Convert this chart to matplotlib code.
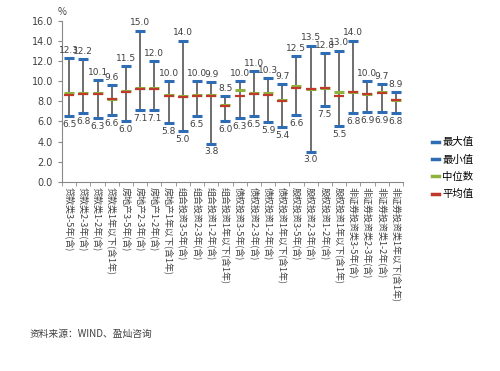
import matplotlib
matplotlib.use("Agg")
import matplotlib.pyplot as plt
from matplotlib.lines import Line2D
import numpy as np

plt.rcParams['font.family'] = ['Noto Sans CJK SC', 'DejaVu Sans']

# categories (x tick labels)
categories = [
    "贷款类3-5年(含)", "贷款类2-3年(含)", "贷款类1-2年(含)", "贷款类1年以下(含1年)",
    "房地产3-5年(含)", "房地产2-3年(含)", "房地产1-2年(含)", "房地产1年以下(含1年)",
    "组合投资3-5年(含)", "组合投资2-3年(含)", "组合投资1-2年(含)", "组合投资1年以下(含1年)",
    "债权投资3-5年(含)", "债权投资2-3年(含)", "债权投资1-2年(含)", "债权投资1年以下(含1年)",
    "股权投资3-5年(含)", "股权投资2-3年(含)", "股权投资1-2年(含)", "股权投资1年以下(含1年)",
    "非证券投资类3-5年(含)", "非证券投资类2-3年(含)", "非证券投资类1-2年(含)", "非证券投资类1年以下(含1年)",
]
max_vals = [12.3, 12.2, 10.1, 9.6, 11.5, 15.0, 12.0, 10.0, 14.0, 10.0, 9.9, 8.5,
            10.0, 11.0, 10.3, 9.7, 12.5, 13.5, 12.8, 13.0, 14.0, 10.0, 9.7, 8.9]
min_vals = [6.5, 6.8, 6.3, 6.6, 6.0, 7.1, 7.1, 5.8, 5.0, 6.5, 3.8, 6.0,
            6.3, 6.5, 5.9, 5.4, 6.6, 3.0, 7.5, 5.5, 6.8, 6.9, 6.9, 6.8]
median_vals = [8.8, 8.8, 8.85, 8.2, 9.05, 9.35, 9.3, 8.6, 8.55, 8.6, 8.6, 7.65,
               9.1, 8.8, 8.85, 8.1, 9.55, 9.25, 9.3, 8.95, 8.9, 8.75, 8.95, 8.1]
mean_vals = [8.6, 8.7, 8.7, 8.2, 8.9, 9.25, 9.25, 8.55, 8.4, 8.55, 8.55, 7.5,
             8.55, 8.7, 8.6, 8.05, 9.35, 9.25, 9.3, 8.55, 8.9, 8.7, 8.8, 8.1]

C_MAX = '#2e6db4'
C_MIN = '#2e6db4'
C_MED = '#8db33c'
C_MEAN = '#c0392b'
TXT = '#404040'

fig = plt.figure(figsize=(5.0, 3.71), dpi=100)
ax = fig.add_axes([0.124, 0.51, 0.682, 0.434])

x = np.arange(len(categories))
ax.vlines(x, min_vals, max_vals, color='#555555', lw=1.2, zorder=1)
ms = 7.5
ax.plot(x, max_vals, ls='none', marker='_', ms=ms, mew=2.2, color=C_MAX, zorder=3)
ax.plot(x, min_vals, ls='none', marker='_', ms=ms, mew=2.2, color=C_MIN, zorder=3)
ax.plot(x, median_vals, ls='none', marker='_', ms=ms, mew=2.2, color=C_MED, zorder=4)
ax.plot(x, mean_vals, ls='none', marker='_', ms=ms, mew=1.6, color=C_MEAN, zorder=5)

for xi, v in zip(x, max_vals):
    ax.annotate(f"{v:.1f}", (xi, v), xytext=(0, 2.5), textcoords='offset points',
                ha='center', va='bottom', fontsize=6.5, color=TXT, family='DejaVu Sans')
for xi, v in zip(x, min_vals):
    ax.annotate(f"{v:.1f}", (xi, v), xytext=(0, -2.5), textcoords='offset points',
                ha='center', va='top', fontsize=6.5, color=TXT, family='DejaVu Sans')

ax.set_xlim(-0.5, len(categories) - 0.5)
ax.set_ylim(0, 16)
ax.set_yticks(np.arange(0, 16.1, 2))
ax.set_yticklabels([f"{t:.1f}" for t in np.arange(0, 16.1, 2)], fontsize=7,
                   family='DejaVu Sans', color=TXT)
ax.set_xticks(x)
ax.set_xticklabels(categories, rotation=-90, fontsize=6.5, va='top', ha='center', color=TXT)
ax.set_xticks(np.arange(-0.5, len(categories), 1), minor=True)
ax.tick_params(axis='x', which='major', length=0, pad=4)
ax.tick_params(axis='x', which='minor', length=3, color='#888888')
ax.tick_params(axis='y', length=3, color='#888888')
for s in ['top', 'right']:
    ax.spines[s].set_visible(False)
for s in ['left', 'bottom']:
    ax.spines[s].set_color('#888888')

fig.text(0.124, 0.955, "%", fontsize=7, ha='center', va='bottom', color=TXT)

handles = [Line2D([], [], color=C_MAX, lw=2.5),
           Line2D([], [], color=C_MIN, lw=2.5),
           Line2D([], [], color=C_MED, lw=2.5),
           Line2D([], [], color=C_MEAN, lw=2.5)]
fig.legend(handles, ["最大值", "最小值", "中位数", "平均值"], loc='upper left',
           bbox_to_anchor=(0.845, 0.655), frameon=False, fontsize=7.5,
           handlelength=0.7, handletextpad=0.3, labelspacing=0.7)

fig.text(0.06, 0.10, "资料来源：WIND、盈灿咨询", fontsize=7, color=TXT, va='center')

fig.savefig("out.png", dpi=100)
